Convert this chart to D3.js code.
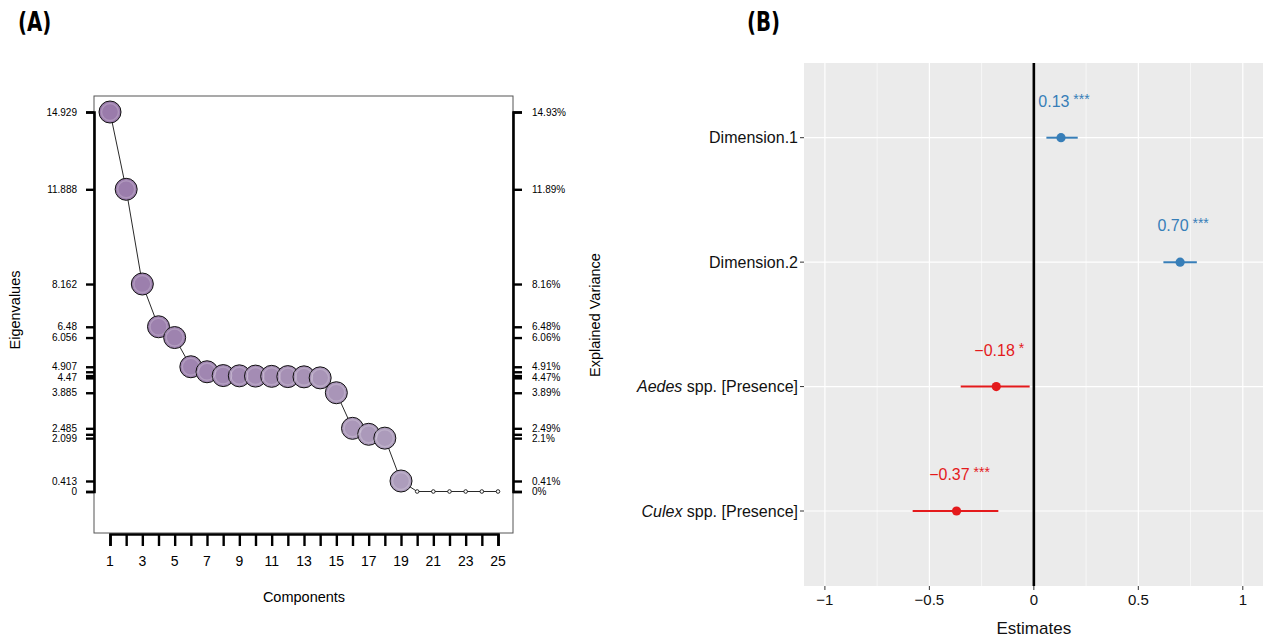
<!DOCTYPE html>
<html>
<head>
<meta charset="utf-8">
<script src="https://cdn.jsdelivr.net/npm/d3@7"></script>
<style>
  body { margin: 0; background: #fff; }
  svg text { font-family: "Liberation Sans", Arial, sans-serif; }
</style>
</head>
<body>
<svg id="chart" width="1263" height="639"></svg>
<script>
// ---- panel A data (scree plot)
const components = d3.range(1, 26)
const eigenvalues = [14.929, 11.888, 8.162, 6.48, 6.056, 4.907, 4.71, 4.56, 4.55, 4.54, 4.53, 4.52, 4.51, 4.47,
  3.885, 2.485, 2.25, 2.099, 0.413, 0, 0, 0, 0, 0, 0]
const eigenLabelTicks = [14.929, 11.888, 8.162, 6.48, 6.056, 4.907, 4.47, 3.885, 2.485, 2.099, 0.413, 0]
const eigenLabels = ["14.929", "11.888", "8.162", "6.48", "6.056", "4.907", "4.47", "3.885", "2.485", "2.099", "0.413", "0"]
const varianceLabels = ["14.93%", "11.89%", "8.16%", "6.48%", "6.06%", "4.91%", "4.47%", "3.89%", "2.49%", "2.1%", "0.41%", "0%"]
const xTickLabels = [1, 3, 5, 7, 9, 11, 13, 15, 17, 19, 21, 23, 25]

// ---- panel B data (model estimates)
const terms = ["Dimension.1", "Dimension.2", "Aedes spp. [Presence]", "Culex spp. [Presence]"]
const estimates = [0.13, 0.70, -0.18, -0.37]
const ciLow = [0.06, 0.62, -0.35, -0.58]
const ciHigh = [0.21, 0.78, -0.02, -0.17]
const stars = ["***", "***", "*", "***"]
const estTicks = [-1, -0.5, 0, 0.5, 1]
const estMinor = [-0.75, -0.25, 0.25, 0.75]

const svg = d3.select("#chart")

// panel letters (bold, condensed look)
const letter = (lx, txt) => svg.append("text")
   .attr("transform", `translate(${lx},31) scale(0.86,1.14)`).text(txt)
   .style("font-family", "'DejaVu Sans',sans-serif")
   .style("font-weight", "bold").style("font-size", "23px")
letter(18, "(A)")
letter(747, "(B)")

// ================= panel A =================
const box = {l: 94, r: 513, t: 96, b: 533}
const x = d3.scaleLinear().domain([1, 25]).range([110, 498])
const y = d3.scaleLinear().domain([0, 14.929]).range([491.5, 112])

const a = svg.append("g")
a.append("rect").attr("x", box.l).attr("y", box.t)
 .attr("width", box.r - box.l).attr("height", box.b - box.t)
 .attr("fill", "none").attr("stroke", "#555").attr("stroke-width", 1)

// left axis with ticks at every eigenvalue
const yLeft = d3.axisLeft(y).tickValues(Array.from(new Set(eigenvalues))).tickSize(8).tickFormat("")
const gl = a.append("g").attr("transform", `translate(${box.l},0)`).call(yLeft)
gl.select(".domain").attr("stroke-width", 2.6)
gl.selectAll(".tick line").attr("stroke-width", 2.4)
a.selectAll(".eig-lab").data(eigenLabelTicks).enter().append("text")
 .attr("x", 77).attr("y", d => y(d) + 3.5).attr("text-anchor", "end")
 .style("font-size", "10px").text((d, i) => eigenLabels[i])

const yRight = d3.axisRight(y).tickValues(Array.from(new Set(eigenvalues))).tickSize(9).tickFormat("")
const gr = a.append("g").attr("transform", `translate(${box.r},0)`).call(yRight)
gr.select(".domain").attr("stroke-width", 2.6)
gr.selectAll(".tick line").attr("stroke-width", 2.4)
a.selectAll(".var-lab").data(eigenLabelTicks).enter().append("text")
 .attr("x", 532).attr("y", d => y(d) + 3.5)
 .style("font-size", "10px").text((d, i) => varianceLabels[i])

const xAxis = d3.axisBottom(x).tickValues(components).tickSize(12).tickFormat("")
const gx = a.append("g").attr("transform", `translate(0,${box.b + 1})`).call(xAxis)
gx.select(".domain").attr("stroke-width", 2.6)
gx.selectAll(".tick line").attr("stroke-width", 2.4)
a.selectAll(".x-lab").data(xTickLabels).enter().append("text")
 .attr("x", d => x(d)).attr("y", 566).attr("text-anchor", "middle")
 .style("font-size", "14px").text(d => d)

a.append("text").attr("x", 304).attr("y", 602).attr("text-anchor", "middle")
 .style("font-size", "14.5px").text("Components")
a.append("text").attr("transform", "translate(20,310) rotate(-90)").attr("text-anchor", "middle")
 .style("font-size", "14.5px").text("Eigenvalues")
a.append("text").attr("transform", "translate(600,315) rotate(-90)").attr("text-anchor", "middle")
 .style("font-size", "14.5px").text("Explained Variance")

const pts = components.map((c, i) => ({c: c, v: eigenvalues[i]}))
a.append("path").datum(pts)
 .attr("d", d3.line().x(d => x(d.c)).y(d => y(d.v)))
 .attr("fill", "none").attr("stroke", "#111").attr("stroke-width", 0.9)

const col = d3.scaleLinear().domain([1, 19]).range(["#9a7bab", "#ad9dbc"])
const big = pts.filter(d => d.v > 0)
a.selectAll(".pt").data(big).enter().append("circle")
 .attr("cx", d => x(d.c)).attr("cy", d => y(d.v)).attr("r", 11)
 .attr("fill", d => col(d.c)).attr("stroke", "#111").attr("stroke-width", 1)
a.selectAll(".pt-in").data(big).enter().append("circle")
 .attr("cx", d => x(d.c)).attr("cy", d => y(d.v)).attr("r", 8.5)
 .attr("fill", "none").attr("stroke", "#fff").attr("stroke-opacity", 0.2).attr("stroke-width", 1.5)
a.selectAll(".pt-s").data(pts.filter(d => d.v === 0)).enter().append("circle")
 .attr("cx", d => x(d.c)).attr("cy", d => y(d.v)).attr("r", 1.8)
 .attr("fill", "#fff").attr("stroke", "#111").attr("stroke-width", 0.9)

// ================= panel B =================
const pan = {l: 804, r: 1263, t: 63, b: 586}
const xe = d3.scaleLinear().domain([-1.1, 1.1]).range([pan.l, 1263.7])
const ye = d3.scalePoint().domain(terms).range([137.7, 511])
const b = svg.append("g")

b.append("rect").attr("x", pan.l).attr("y", pan.t)
 .attr("width", pan.r - pan.l).attr("height", pan.b - pan.t).attr("fill", "#EBEBEB")
b.selectAll(".minor").data(estMinor).enter().append("line")
 .attr("x1", d => xe(d)).attr("x2", d => xe(d)).attr("y1", pan.t).attr("y2", pan.b)
 .attr("stroke", "#fff").attr("stroke-width", 0.6)
b.selectAll(".major").data(estTicks).enter().append("line")
 .attr("x1", d => xe(d)).attr("x2", d => xe(d)).attr("y1", pan.t).attr("y2", pan.b)
 .attr("stroke", "#fff").attr("stroke-width", 1.2)
b.selectAll(".hmajor").data(terms).enter().append("line")
 .attr("x1", pan.l).attr("x2", pan.r).attr("y1", d => ye(d)).attr("y2", d => ye(d))
 .attr("stroke", "#fff").attr("stroke-width", 1.2)
b.append("line").attr("x1", xe(0)).attr("x2", xe(0)).attr("y1", pan.t).attr("y2", pan.b)
 .attr("stroke", "#000").attr("stroke-width", 2.6)

const colr = d => d > 0 ? "#377EB8" : "#E41A1C"
const rows = terms.map((t, i) => ({t: t, e: estimates[i], lo: ciLow[i], hi: ciHigh[i], s: stars[i]}))
b.selectAll(".ci").data(rows).enter().append("line")
 .attr("x1", d => xe(d.lo)).attr("x2", d => xe(d.hi))
 .attr("y1", d => ye(d.t)).attr("y2", d => ye(d.t))
 .attr("stroke", d => colr(d.e)).attr("stroke-width", 2)
b.selectAll(".est").data(rows).enter().append("circle")
 .attr("cx", d => xe(d.e)).attr("cy", d => ye(d.t)).attr("r", 4.6)
 .attr("fill", d => colr(d.e))
const lab = b.selectAll(".est-lab").data(rows).enter().append("text")
 .attr("x", d => xe(d.e) + 3).attr("y", d => ye(d.t) - 31).attr("text-anchor", "middle")
 .attr("fill", d => colr(d.e)).style("font-size", "16px")
lab.append("tspan").text(d => d3.format(".2f")(d.e).replace("-", "\u2212"))
lab.append("tspan").attr("dy", -3).style("font-size", "14px").text(d => " " + d.s)

// y axis labels, genus names in italics
b.selectAll(".ytick").data(terms).enter().append("line")
 .attr("x1", pan.l - 4).attr("x2", pan.l).attr("y1", d => ye(d)).attr("y2", d => ye(d))
 .attr("stroke", "#333").attr("stroke-width", 1)
const yl = b.selectAll(".ylab").data(terms).enter().append("text")
 .attr("x", pan.l - 6).attr("y", d => ye(d) + 5.5).attr("text-anchor", "end")
 .style("font-size", "16px").attr("fill", "#111")
yl.each(function(d) {
  const t = d3.select(this)
  const parts = d.split(" spp.")
  if (parts.length > 1) {
    t.append("tspan").style("font-style", "italic").text(parts[0])
    t.append("tspan").text(" spp." + parts[1])
  } else t.text(d)
})

b.selectAll(".xtick").data(estTicks).enter().append("line")
 .attr("x1", d => xe(d)).attr("x2", d => xe(d)).attr("y1", pan.b).attr("y2", pan.b + 4)
 .attr("stroke", "#333").attr("stroke-width", 1)
b.selectAll(".xlab").data(estTicks).enter().append("text")
 .attr("x", d => xe(d)).attr("y", 605).attr("text-anchor", "middle")
 .style("font-size", "15px").attr("fill", "#111")
 .text(d => d3.format("")(d).replace("-", "\u2212"))
b.append("text").attr("x", xe(0)).attr("y", 634).attr("text-anchor", "middle")
 .style("font-size", "17px").attr("fill", "#111").text("Estimates")
</script>
</body>
</html>
